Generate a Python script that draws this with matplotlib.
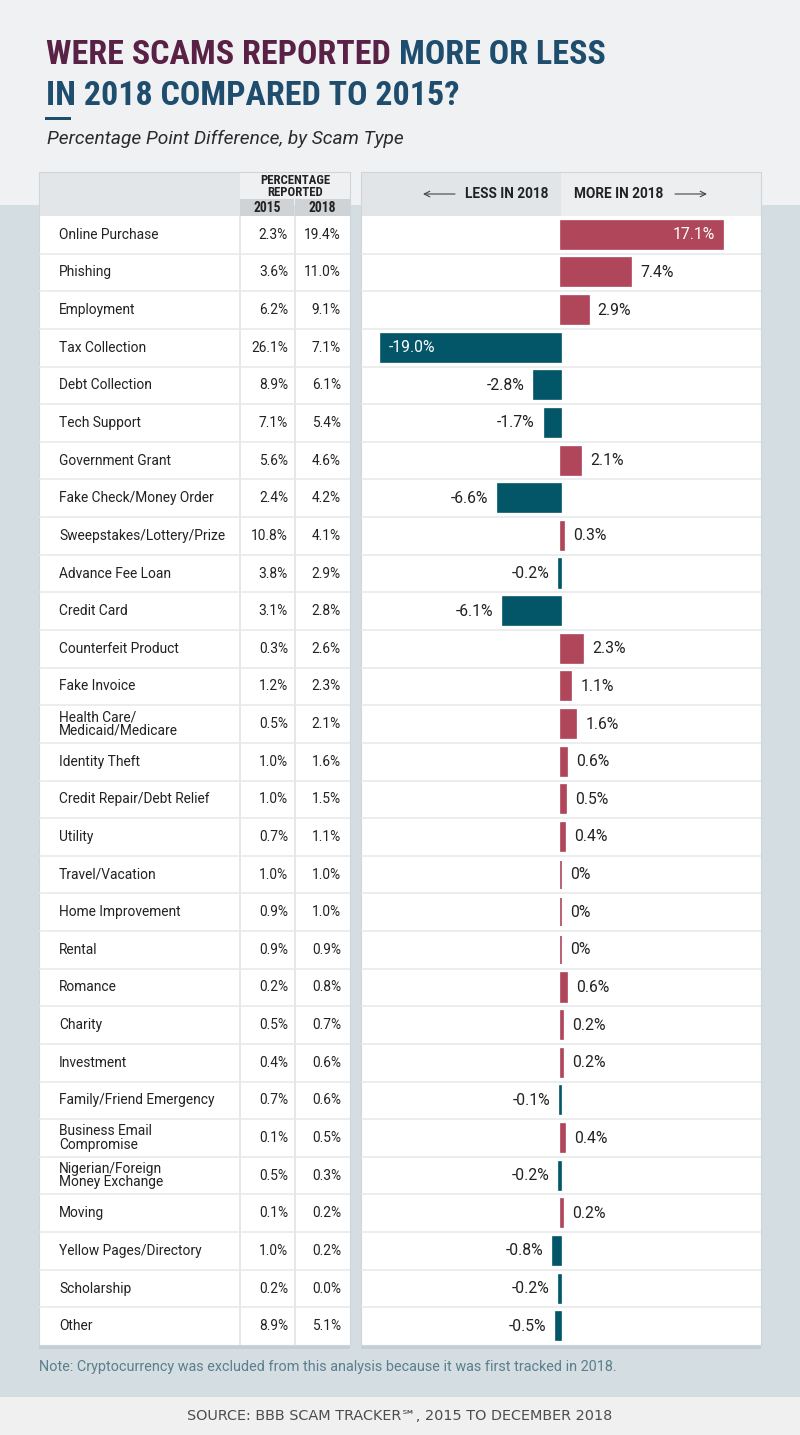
import matplotlib
matplotlib.use("Agg")
import matplotlib.pyplot as plt
from matplotlib.patches import Rectangle
from matplotlib import font_manager as fm
import numpy as np

# ---------------- data ----------------
categories = [
    "Online Purchase", "Phishing", "Employment", "Tax Collection", "Debt Collection",
    "Tech Support", "Government Grant", "Fake Check/Money Order", "Sweepstakes/Lottery/Prize",
    "Advance Fee Loan", "Credit Card", "Counterfeit Product", "Fake Invoice",
    "Health Care/\nMedicaid/Medicare", "Identity Theft", "Credit Repair/Debt Relief",
    "Utility", "Travel/Vacation", "Home Improvement", "Rental", "Romance", "Charity",
    "Investment", "Family/Friend Emergency", "Business Email\nCompromise",
    "Nigerian/Foreign\nMoney Exchange", "Moving", "Yellow Pages/Directory", "Scholarship", "Other",
]
pct_2015 = [2.3, 3.6, 6.2, 26.1, 8.9, 7.1, 5.6, 2.4, 10.8, 3.8, 3.1, 0.3, 1.2, 0.5, 1.0,
            1.0, 0.7, 1.0, 0.9, 0.9, 0.2, 0.5, 0.4, 0.7, 0.1, 0.5, 0.1, 1.0, 0.2, 8.9]
pct_2018 = [19.4, 11.0, 9.1, 7.1, 6.1, 5.4, 4.6, 4.2, 4.1, 2.9, 2.8, 2.6, 2.3, 2.1, 1.6,
            1.5, 1.1, 1.0, 1.0, 0.9, 0.8, 0.7, 0.6, 0.6, 0.5, 0.3, 0.2, 0.2, 0.0, 5.1]
diff = [17.1, 7.4, 2.9, -19.0, -2.8, -1.7, 2.1, -6.6, 0.3, -0.2, -6.1, 2.3, 1.1, 1.6, 0.6,
        0.5, 0.4, 0.0, 0.0, 0.0, 0.6, 0.2, 0.2, -0.1, 0.4, -0.2, 0.2, -0.8, -0.2, -0.5]
year_labels = ["2015", "2018"]

title_a = "WERE SCAMS REPORTED"
title_b = "MORE OR LESS"
title_2 = "IN 2018 COMPARED TO 2015?"
subtitle = "Percentage Point Difference, by Scam Type"
note = "Note: Cryptocurrency was excluded from this analysis because it was first tracked in 2018."
source = "SOURCE: BBB SCAM TRACKER\u2120, 2015 TO DECEMBER 2018"

# ---------------- style ----------------
POS = "#af465a"
NEG = "#025668"
PURPLE = "#5a2146"
BLUE = "#1e4d6d"
GRID = "#e5e8ea"
TXT = "#222222"


def pick(cands, weight="normal"):
    for fam, stretch in cands:
        try:
            p = fm.findfont(fm.FontProperties(family=fam, stretch=stretch, weight=weight),
                            fallback_to_default=False)
            if stretch == "condensed" and "ondensed" not in p:
                continue
            return fam, stretch
        except Exception:
            pass
    return "DejaVu Sans", "normal"


COND, COND_ST = pick([("Liberation Sans Narrow", "normal"), ("Roboto Condensed", "normal"),
                      ("Open Sans Condensed", "normal"), ("DejaVu Sans", "condensed"),
                      ("Roboto", "normal")], weight="bold")
BODY = ["Roboto", "DejaVu Sans"]

W, H = 800, 1435
fig = plt.figure(figsize=(W / 100, H / 100), dpi=100)

bg = fig.add_axes([0, 0, 1, 1])
bg.set_xlim(0, W)
bg.set_ylim(H, 0)
bg.axis("off")

# backgrounds
bg.add_patch(Rectangle((0, 0), W, 205, color="#eff1f2", lw=0))
bg.add_patch(Rectangle((0, 205), W, 1192, color="#d3dde2", lw=0))
bg.add_patch(Rectangle((0, 1397), W, 38, color="#f0f0f0", lw=0))

# panels
for x0, w in [(39, 311), (361, 400)]:
    bg.add_patch(Rectangle((x0, 1345), w, 4, color="#c4cfd5", lw=0))
    bg.add_patch(Rectangle((x0, 216), w, 1129, color="white", lw=0))
# header cells
bg.add_patch(Rectangle((39, 172), 201, 44, color="#e3e6e8", lw=0))
bg.add_patch(Rectangle((240, 172), 110, 27, color="#eef0f1", lw=0))
bg.add_patch(Rectangle((240, 199), 54, 17, color="#cfd3d5", lw=0))
bg.add_patch(Rectangle((295, 199), 55, 17, color="#cfd3d5", lw=0))
bg.add_patch(Rectangle((361, 172), 200, 44, color="#e2e5e7", lw=0))
bg.add_patch(Rectangle((561, 172), 200, 44, color="#eceeef", lw=0))
for x0, w in [(39, 311), (361, 400)]:
    bg.add_patch(Rectangle((x0, 172), w, 1173, fill=False, ec="#cfd5d8", lw=0.8))

# header texts
bg.text(295, 186.5, "PERCENTAGE\nREPORTED", ha="center", va="center", fontsize=9.2,
        fontweight="bold", family=COND, fontstretch=COND_ST, color=TXT, linespacing=0.85)
for xc, lab in zip([267, 322], year_labels):
    bg.text(xc, 208, lab, ha="center", va="center", fontsize=9.8, fontweight="bold",
            family=COND, fontstretch=COND_ST, color=TXT)
bg.text(548, 194, "LESS IN 2018", ha="right", va="center", fontsize=9.8, fontweight="bold",
        family=BODY, color=TXT)
bg.text(574, 194, "MORE IN 2018", ha="left", va="center", fontsize=9.8, fontweight="bold",
        family=BODY, color=TXT)
bg.annotate("", xy=(423, 194), xytext=(455, 194),
            arrowprops=dict(arrowstyle="->", lw=0.8, color="#444444", shrinkA=0, shrinkB=0))
bg.annotate("", xy=(707, 194), xytext=(675, 194),
            arrowprops=dict(arrowstyle="->", lw=0.8, color="#444444", shrinkA=0, shrinkB=0))

# title (sized from the width of line 1)
renderer = fig.canvas.get_renderer()
probe = bg.text(0, 0, title_a + " " + title_b, fontsize=30, fontweight="bold",
                family=COND, fontstretch=COND_ST)
wfull = probe.get_window_extent(renderer=renderer).width
probe.remove()
fs = min(30 * 497 / wfull * 1.12, 36)
tb = bg.text(0, 0, title_b, fontsize=fs, fontweight="bold", family=COND, fontstretch=COND_ST)
wb = tb.get_window_extent(renderer=renderer).width
tb.remove()
wall = bg.text(0, 0, title_a + " " + title_b, fontsize=fs, fontweight="bold", family=COND,
               fontstretch=COND_ST)
wf = wall.get_window_extent(renderer=renderer).width
wall.remove()
bg.text(46, 64, title_a, fontsize=fs, fontweight="bold", family=COND, fontstretch=COND_ST,
        color=PURPLE, va="baseline")
bg.text(46 + wf - wb, 64, title_b, fontsize=fs, fontweight="bold", family=COND,
        fontstretch=COND_ST, color=BLUE, va="baseline")
bg.text(46, 105, title_2, fontsize=fs, fontweight="bold", family=COND, fontstretch=COND_ST,
        color=BLUE, va="baseline")
bg.add_patch(Rectangle((45, 117), 26, 2.5, color=BLUE, lw=0))
bg.text(47, 139, subtitle, fontsize=13.8, style="italic", fontweight="normal", family=BODY,
        color="#2b2b2b", va="center")

# note & source
bg.text(39, 1367, note, fontsize=10.4, family=BODY, color="#5b7f8b", va="center")
bg.text(400, 1416, source, fontsize=10.4, family=["DejaVu Sans"], color="#4d4d4d",
        ha="center", va="center")

n = len(categories)
rows = np.arange(n)

# ---------------- table ----------------
ax_t = fig.add_axes([39 / W, 1 - 1345 / H, 311 / W, 1129 / H])
ax_t.set_xlim(0, 311)
ax_t.set_ylim(n - 0.5, -0.5)
ax_t.axis("off")
ax_t.patch.set_alpha(0)
ax_t.hlines(rows[1:] - 0.5, 0, 311, color=GRID, lw=1.1)
ax_t.vlines([201, 256], -0.5, n - 0.5, color=GRID, lw=1.4)
for i in rows:
    ax_t.text(20, i, categories[i], ha="left", va="center", fontsize=9.9, family=BODY,
              color=TXT, linespacing=0.95)
    ax_t.text(249, i, f"{pct_2015[i]:.1f}%", ha="right", va="center", fontsize=9.9,
              family=BODY, color=TXT)
    ax_t.text(302, i, f"{pct_2018[i]:.1f}%", ha="right", va="center", fontsize=9.9,
              family=BODY, color=TXT)

# ---------------- bars ----------------
ax_b = fig.add_axes([361 / W, 1 - 1345 / H, 400 / W, 1129 / H])
lim = 200 / 9.5
ax_b.set_xlim(-lim, lim)
ax_b.set_ylim(n - 0.5, -0.5)
ax_b.axis("off")
ax_b.patch.set_alpha(0)
ax_b.hlines(rows[1:] - 0.5, -lim, lim, color=GRID, lw=1.1)
cols = [POS if v >= 0 else NEG for v in diff]
ax_b.barh(rows, diff, height=0.745, color=cols, edgecolor=cols, linewidth=1.2)
px = 1 / 9.5
LFS = 11.3
for i, v in enumerate(diff):
    lab = "0%" if v == 0 else f"{v:.1f}%"
    if v >= 15:
        ax_b.text(v - 9 * px, i, lab, ha="right", va="center", color="white", fontsize=LFS,
                  family=BODY)
    elif v <= -15:
        ax_b.text(v + 8 * px, i, lab, ha="left", va="center", color="white", fontsize=LFS,
                  family=BODY)
    elif v >= 0:
        ax_b.text(v + 9 * px, i, lab, ha="left", va="center", color=TXT, fontsize=LFS,
                  family=BODY)
    else:
        ax_b.text(v - 10 * px, i, lab, ha="right", va="center", color=TXT, fontsize=LFS,
                  family=BODY)

fig.savefig("out.png", dpi=100)
